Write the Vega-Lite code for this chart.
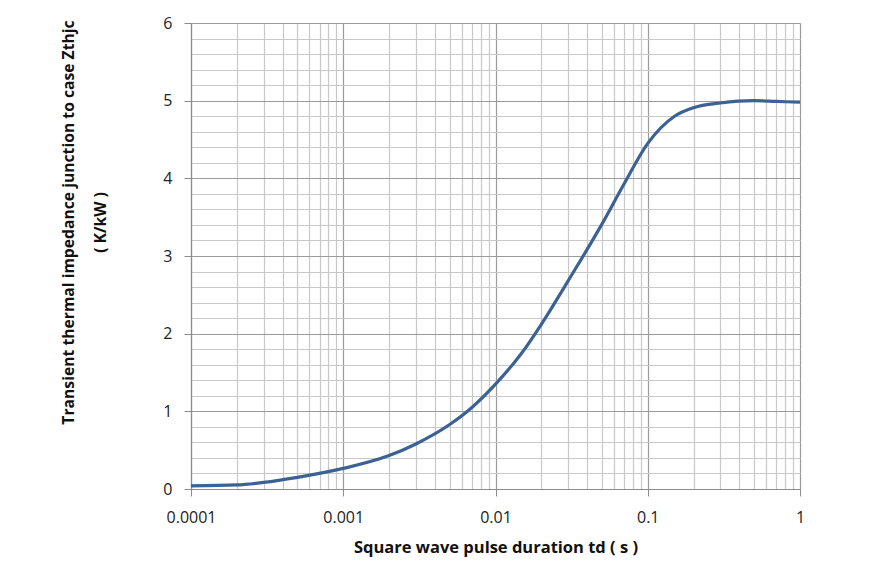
{
  "$schema": "https://vega.github.io/schema/vega-lite/v6.json",
  "width": 609,
  "height": 466,
  "autosize": {"type": "none"},
  "padding": {"left": 191, "top": 23, "right": 69, "bottom": 93},
  "background": "white",
  "config": {
    "view": {"stroke": null},
    "font": "Open Sans"
  },
  "data": {
    "values": [
      {"t": 0.0001, "z": 0.04},
      {"t": 0.0002, "z": 0.052},
      {"t": 0.0003, "z": 0.085},
      {"t": 0.0005, "z": 0.15},
      {"t": 0.001, "z": 0.265},
      {"t": 0.002, "z": 0.43},
      {"t": 0.003, "z": 0.58},
      {"t": 0.005, "z": 0.83},
      {"t": 0.007, "z": 1.05},
      {"t": 0.01, "z": 1.35},
      {"t": 0.015, "z": 1.76},
      {"t": 0.02, "z": 2.12},
      {"t": 0.03, "z": 2.68},
      {"t": 0.05, "z": 3.41},
      {"t": 0.07, "z": 3.93},
      {"t": 0.1, "z": 4.45},
      {"t": 0.15, "z": 4.8},
      {"t": 0.2, "z": 4.91},
      {"t": 0.3, "z": 4.97},
      {"t": 0.5, "z": 5.0},
      {"t": 0.7, "z": 4.99},
      {"t": 1, "z": 4.98}
    ]
  },
  "layer": [
    {
      "mark": {"type": "line", "opacity": 0},
      "encoding": {
        "x": {
          "field": "t", "type": "quantitative",
          "scale": {"type": "log", "domain": [0.0001, 1], "nice": false},
          "axis": {
            "orient": "top", "values": [0.0002,0.0003,0.0004,0.0005,0.0006,0.0007,0.0008,0.0009,0.002,0.003,0.004,0.005,0.006,0.007,0.008,0.009,0.02,0.03,0.04,0.05,0.06,0.07,0.08,0.09,0.2,0.3,0.4,0.5,0.6,0.7,0.8,0.9],
            "labels": false, "ticks": false, "domain": false, "title": null,
            "grid": true, "gridColor": "#c8c8c8", "gridWidth": 1.2
          }
        },
        "y": {
          "field": "z", "type": "quantitative",
          "scale": {"domain": [0, 6], "nice": false},
          "axis": {
            "orient": "right", "values": [0.2,0.4,0.6,0.8,1.2,1.4,1.6,1.8,2.2,2.4,2.6,2.8,3.2,3.4,3.6,3.8,4.2,4.4,4.6,4.8,5.2,5.4,5.6,5.8],
            "labels": false, "ticks": false, "domain": false, "title": null,
            "grid": true, "gridColor": "#c8c8c8", "gridWidth": 1.2
          }
        }
      }
    },
    {
      "mark": {"type": "line", "color": "#3c6293", "strokeWidth": 3.2, "interpolate": "monotone"},
      "encoding": {
        "x": {
          "field": "t", "type": "quantitative",
          "axis": {
            "orient": "bottom", "values": [0.0001, 0.001, 0.01, 0.1, 1], "format": "~g",
            "grid": true, "gridColor": "#9a9a9a", "gridWidth": 1.2,
            "domainColor": "#8c8c8c", "domainWidth": 1.2,
            "tickColor": "#8c8c8c", "tickSize": 7,
            "labelFont": "Open Sans", "labelFontSize": 16, "labelColor": "#222222", "labelPadding": 13, "labelFlush": false,
            "title": "Square wave pulse duration td ( s )",
            "titleFont": "Open Sans", "titleFontSize": 16.5, "titleFontWeight": "bold", "titleColor": "#111111", "titlePadding": 14
          }
        },
        "y": {
          "field": "z", "type": "quantitative",
          "axis": {
            "orient": "left", "values": [0, 1, 2, 3, 4, 5, 6], "format": "d",
            "grid": true, "gridColor": "#9a9a9a", "gridWidth": 1.2,
            "domainColor": "#8c8c8c", "domainWidth": 1.2,
            "tickColor": "#8c8c8c", "tickSize": 7,
            "labelFont": "Open Sans", "labelFontSize": 16, "labelColor": "#222222", "labelPadding": 12, "labelFlush": false,
            "title": ["Transient thermal impedance junction to case Zthjc", "( K/kW )"],
            "titleFont": "Open Sans", "titleFontSize": 15.7, "titleFontWeight": "bold", "titleColor": "#111111",
            "titlePadding": 54, "titleY": 199, "titleLineHeight": 32
          }
        }
      }
    }
  ],
  "resolve": {"axis": {"x": "independent", "y": "independent"}}
}
